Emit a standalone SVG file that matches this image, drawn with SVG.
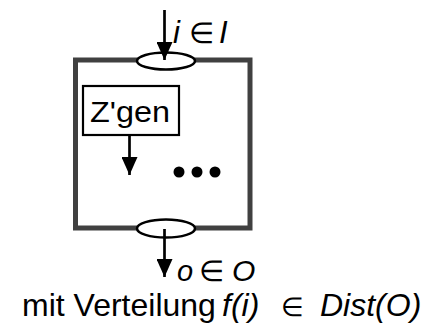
<svg xmlns="http://www.w3.org/2000/svg" width="429" height="327" viewBox="0 0 429 327">
<style>
  text { font-family: "Liberation Sans", Arial, sans-serif; fill: #000; }
  .lbl { font-size: 31px; }
  .lbl2 { font-size: 29px; }
  .it { font-style: italic; }
  .el { font-size: 29px; }
  .frame { fill: none; stroke: #404040; stroke-width: 5; }
  .port { fill: #fff; stroke: #000; stroke-width: 2.5; }
  .conn { stroke: #000; stroke-width: 2.7; fill: none; }
  .box { fill: #fff; stroke: #000; stroke-width: 2.2; }
</style>
<defs>
  <marker id="ah" markerUnits="userSpaceOnUse" markerWidth="18" markerHeight="16" refX="18" refY="8" orient="auto" viewBox="0 0 18 16">
    <path d="M0,0 L18,8 L0,16 Z" fill="#000"/>
  </marker>
</defs>
<rect width="429" height="327" fill="#fff"/>
<g id="frame">
  <rect class="frame" x="75.5" y="60" width="174.5" height="168"/>
</g>
<g id="port-in">
  <ellipse class="port" cx="166" cy="61" rx="29" ry="8.5"/>
</g>
<g id="port-out">
  <ellipse class="port" cx="166" cy="228.5" rx="29" ry="9"/>
</g>
<g id="zgen">
  <rect class="box" x="83" y="86" width="96" height="49"/>
  <text x="90" y="122" style="font-size:29px" textLength="80" lengthAdjust="spacingAndGlyphs">Z'gen</text>
</g>
<g id="dots">
  <circle cx="179" cy="172" r="5.5"/>
  <circle cx="197" cy="172" r="5.5"/>
  <circle cx="215" cy="172" r="5.5"/>
</g>
<g id="connectors">
  <line class="conn" x1="164.5" y1="10" x2="164.5" y2="60" marker-end="url(#ah)"/>
  <line class="conn" x1="129.5" y1="135" x2="129.5" y2="175" marker-end="url(#ah)"/>
  <line class="conn" x1="164.5" y1="229" x2="164.5" y2="277" marker-end="url(#ah)"/>
</g>
<g id="labels">
  <text class="lbl"><tspan class="it" x="173" y="43">i</tspan><tspan class="el" x="189" y="43">∈</tspan><tspan class="it" x="219" y="43">I</tspan></text>
  <text class="lbl2"><tspan class="it" x="177" y="281">o</tspan><tspan x="199" y="281">∈</tspan><tspan class="it" x="232" y="281" style="font-size:30px">O</tspan></text>
  <text style="font-size:32px"><tspan x="22" y="316">mit Verteilung</tspan><tspan class="it" x="222" y="316">f(i)</tspan><tspan x="281" y="316" style="font-size:26px">∈</tspan><tspan class="it" x="320" y="316">Dist(O)</tspan></text>
</g>
</svg>
